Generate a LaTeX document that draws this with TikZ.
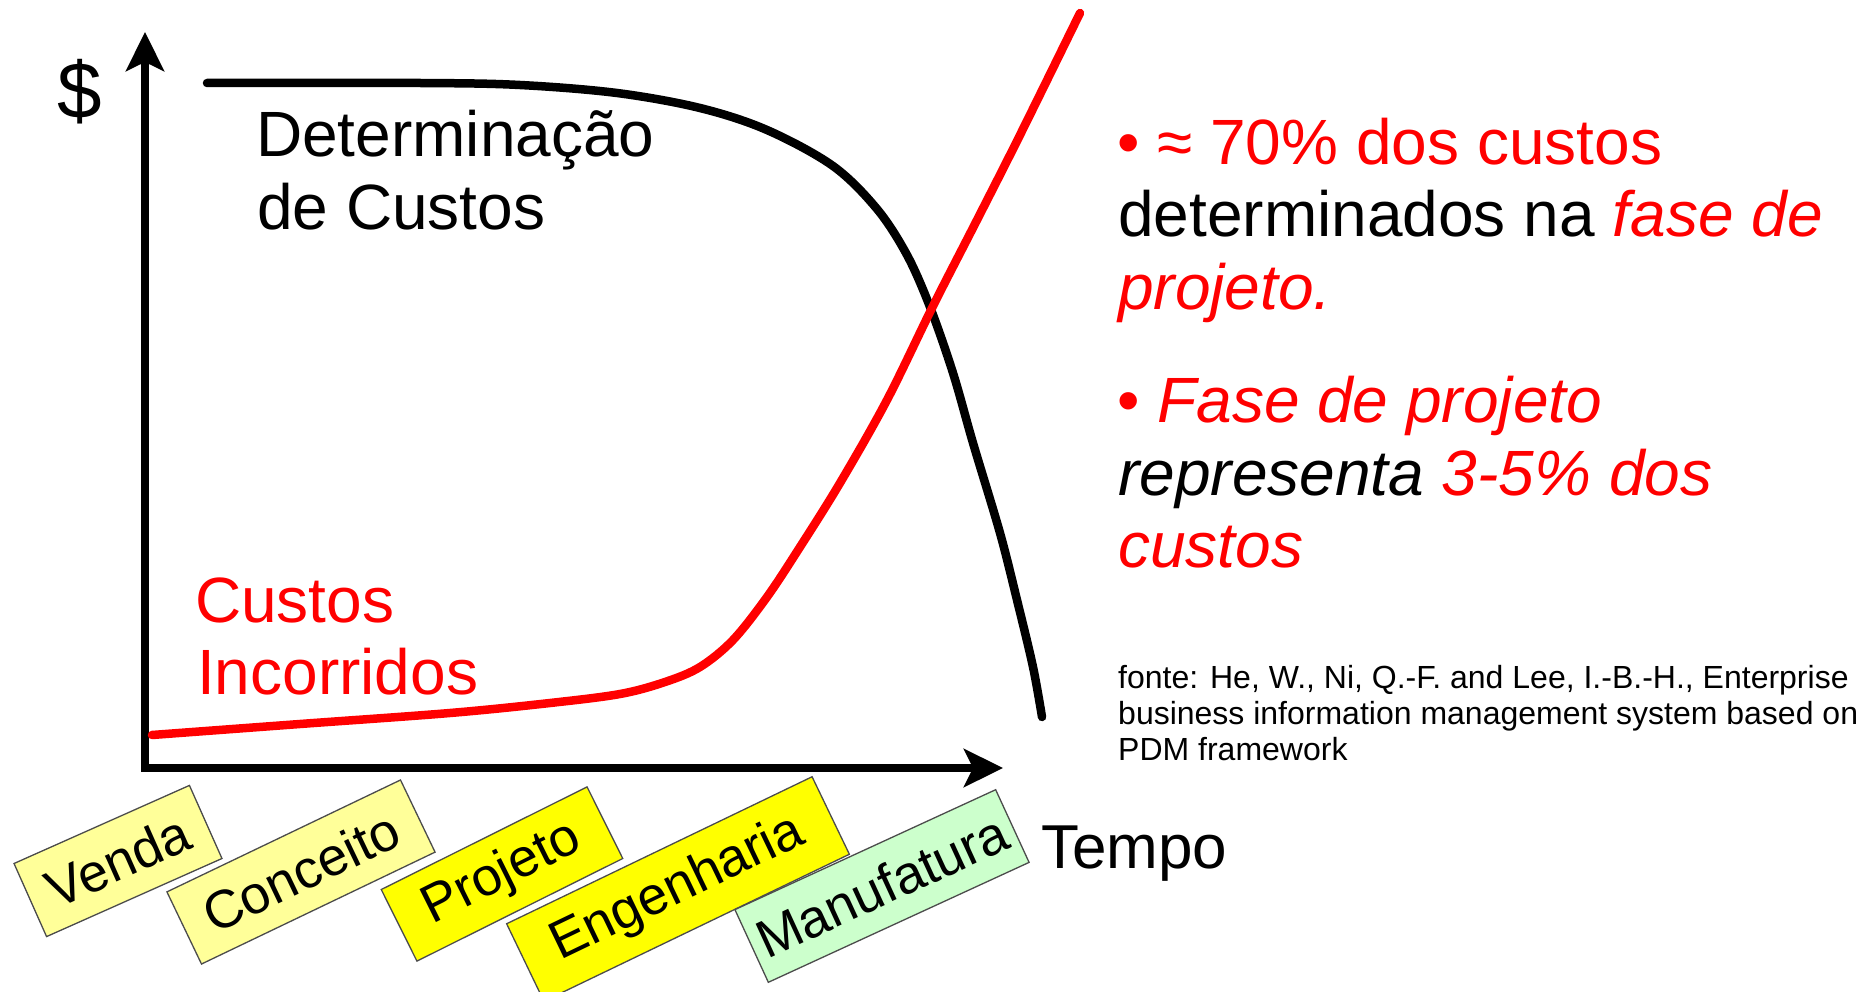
\documentclass[tikz,border=0pt]{standalone}
\usepackage{fontspec}
\setmainfont{Liberation Sans}
\usetikzlibrary{arrows.meta}
\definecolor{lred}{HTML}{FF0000}
\definecolor{paleyel}{HTML}{FFFF99}
\definecolor{brightyel}{HTML}{FFFF00}
\definecolor{palegreen}{HTML}{CCFFCC}
\tikzset{
  phase/.style={draw=black!70, line width=1.3pt, inner sep=0pt, minimum height=80pt,
    font=\fontsize{53.5}{60}\selectfont, anchor=center},
  big/.style={inner sep=0pt, anchor=base west, font=\fontsize{64}{72}\selectfont},
  note/.style={inner sep=0pt, anchor=base west, font=\fontsize{32}{36}\selectfont},
  axisline/.style={line width=8pt, line join=miter,
    {Stealth[length=39pt,width=38pt,inset=9pt]}-{Stealth[length=39pt,width=38pt,inset=9pt]}},
  curve/.style={line width=8.5pt, line cap=round, line join=round}
}
\begin{document}
\begin{tikzpicture}[x=1pt,y=-1pt]
\useasboundingbox[fill=white] (0,0) rectangle (1869,992);

% axes
\coordinate (ytip) at (145,32);
\coordinate (origin) at (145,768);
\coordinate (xtip) at (1003,768);
\draw[axisline] (ytip) -- (origin) -- (xtip);

% curves
\draw[curve, black] plot[smooth, tension=0.55] coordinates {
 (207,83) (420,83) (520,85) (617,93) (700,108) (767,130) (833,166) (877,209)
 (907,255) (930,307) (953,373) (973,443) (1000,533) (1017,600) (1033,667) (1042,717)};
\draw[curve, lred] plot[smooth, tension=0.55] coordinates {
 (152,735) (300,724) (450,713) (550,703) (620,694) (665,682) (700,667) (733,640)
 (767,597) (800,547) (840,483) (887,400) (933,306) (977,220) (1020,135) (1080,13)};

% labels
\node[inner sep=0pt, anchor=base west, font=\fontsize{80}{90}\selectfont] (dollar) at (57,119) {\$};
\node[big] (det1) at (256,157) {Determinação};
\node[big] (det2) at (257,230) {de Custos};
\node[big, text=lred] (inc1) at (195,622) {Custos};
\node[big, text=lred] (inc2) at (197,694) {Incorridos};
\node[inner sep=0pt, anchor=base west, font=\fontsize{62}{70}\selectfont] (tempo) at (1041,868) {Tempo};

% phase boxes
\node[phase, fill=paleyel, minimum width=192pt, rotate=24] (venda) at (118,861) {Venda};
\node[phase, fill=paleyel, minimum width=259pt, rotate=25.6] (conceito) at (301,872) {Conceito};
\node[phase, fill=brightyel, minimum width=230pt, rotate=26.5] (projeto) at (502,874) {Projeto};
\node[phase, fill=brightyel, minimum width=339pt, minimum height=86pt, rotate=25.7] (engenharia) at (678,889) {Engenharia};
\node[phase, fill=palegreen, minimum width=287pt, rotate=24.7] (manufatura) at (882,886) {Manufatura};

% right text
\node[big, text=lred] (b1a) at (1117,165) {• ≈ 70\% dos custos};
\node[big] (b1b) at (1118,237) {determinados na \textcolor{lred}{\textit{fase de}}};
\node[big, text=lred] (b1c) at (1118,310) {\textit{projeto.}};
\node[big, text=lred] (b2a) at (1117,422) {• \textit{Fase de projeto}};
\node[big] (b2b) at (1118,495) {\textit{representa \textcolor{lred}{3-5\% dos}}};
\node[big, text=lred] (b2c) at (1118,567) {\textit{custos}};

% source
\node[note] (f1) at (1118,688) {fonte: He, W., Ni, Q.-F. and Lee, I.-B.-H., Enterprise};
\node[note] (f2) at (1118,724) {business information management system based on};
\node[note] (f3) at (1118,760) {PDM framework};
\end{tikzpicture}
\end{document}
